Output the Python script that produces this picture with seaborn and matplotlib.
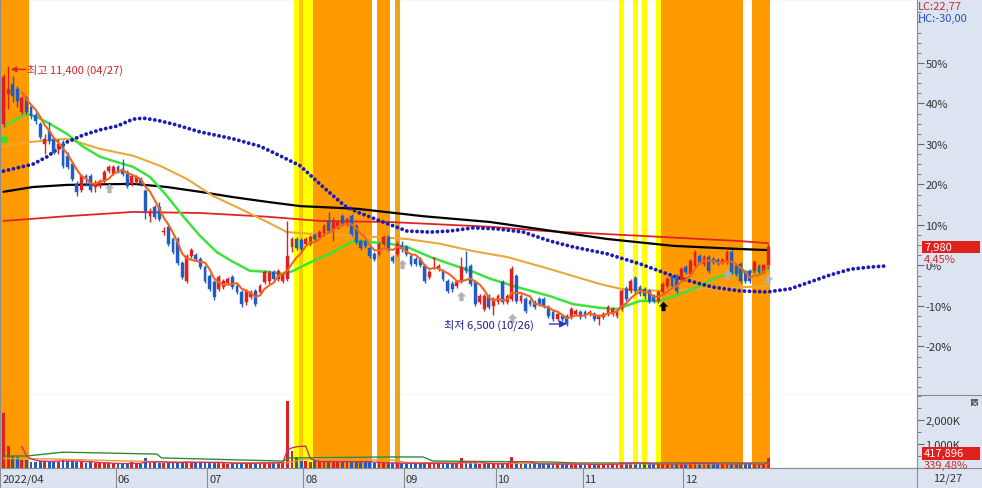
"""Daily candle chart with moving averages, signal bands and volume panel."""

import numpy as np
import pandas as pd
import matplotlib
matplotlib.use('Agg')
import matplotlib.pyplot as plt
from matplotlib.patches import Rectangle
from matplotlib.lines import Line2D
import seaborn as sns

# daily candles 2022-04-26 .. 2022-12-27 (won)
open_ = [10310, 10880, 11060, 10970, 10530, 10800, 10630, 10480, 10310, 9930,
         10180, 10030, 9840, 9970, 9700, 9550, 9180, 9060, 9330, 9330,
         9120, 9140, 9230, 9420, 9370, 9500, 9460, 9400, 9180, 9220,
         9270, 9050, 8570, 8740, 8740, 8270, 8370, 8140, 8140, 7690,
         7350, 7820, 7840, 7760, 7610, 7440, 7330, 7200, 7230, 7310,
         7420, 7250, 7140, 6950, 7050, 7160, 7140, 7330, 7350, 7520,
         7390, 7350, 7390, 7990, 8140, 8120, 8050, 8050, 8220, 8180,
         8230, 8480, 8330, 8370, 8570, 8420, 8570, 8390, 8100, 8100,
         7970, 7860, 7860, 8050, 8180, 7800, 7860, 8010, 7990, 7820,
         7760, 7760, 7630, 7420, 7760, 7570, 7540, 7350, 7290, 7250,
         7350, 7610, 7630, 7330, 6950, 6820, 7060, 6880, 6950, 7330,
         6950, 7010, 7440, 6970, 7010, 6970, 6950, 7010, 7010, 6860,
         6760, 6630, 6690, 6690, 6670, 6730, 6760, 6760, 6730, 6730,
         6630, 6670, 6730, 6730, 6690, 6820, 7200, 7160, 7400, 7230,
         7200, 7160, 7060, 6970, 7140, 7250, 7420, 7440, 7390, 7610,
         7480, 7630, 7820, 7670, 7800, 7760, 7740, 7710, 7710, 7890,
         7630, 7670, 7520, 7540, 7540, 7630, 7540, 7640]
high_ = [11250, 11400, 11220, 11020, 10840, 10840, 10690, 10540, 10350, 10120,
         10350, 10060, 10030, 10000, 9780, 9590, 9230, 9370, 9370, 9370,
         9250, 9270, 9440, 9540, 9540, 9540, 9650, 9440, 9370, 9350,
         9310, 9080, 8720, 8780, 8840, 8370, 8400, 8180, 8180, 7720,
         7860, 7970, 7880, 7800, 7650, 7480, 7370, 7460, 7390, 7420,
         7460, 7290, 7180, 7200, 7180, 7200, 7290, 7560, 7560, 7560,
         7580, 7520, 8480, 8180, 8180, 8160, 8180, 8220, 8250, 8310,
         8420, 8650, 8560, 8500, 8610, 8560, 8610, 8420, 8140, 8140,
         8010, 7900, 8080, 8220, 8220, 7840, 8100, 8100, 8030, 7860,
         7800, 7800, 7670, 7560, 7800, 7670, 7570, 7390, 7350, 7370,
         7800, 7910, 7670, 7370, 7100, 7100, 7100, 7050, 7100, 7370,
         7100, 7630, 7480, 7100, 7050, 7010, 6990, 7050, 7050, 6900,
         6800, 6760, 6730, 6730, 6860, 6820, 6800, 6800, 6800, 6760,
         6730, 6760, 6900, 6860, 6820, 7200, 7250, 7390, 7440, 7270,
         7230, 7200, 7100, 7180, 7330, 7420, 7460, 7480, 7610, 7650,
         7760, 7930, 7860, 7840, 7840, 7800, 7780, 7780, 7930, 7930,
         7670, 7700, 7560, 7580, 7740, 7670, 7670, 8050]
low_ = [10250, 10590, 10720, 10630, 10500, 10500, 10400, 10310, 10030, 9740,
        9930, 9740, 9740, 9480, 9460, 9230, 8950, 9030, 9140, 9030,
        9030, 9100, 9200, 9390, 9350, 9390, 9330, 9100, 9140, 9180,
        9140, 8520, 8460, 8520, 8480, 8220, 8010, 7860, 7650, 7390,
        7310, 7780, 7720, 7570, 7310, 7160, 6990, 7160, 7200, 7270,
        7200, 7100, 6860, 6900, 7000, 6870, 7100, 7290, 7290, 7350,
        7350, 7310, 7350, 7890, 7930, 7910, 8010, 8010, 8100, 8140,
        8200, 8250, 8100, 8330, 8380, 8380, 8200, 8050, 7930, 7970,
        7780, 7720, 7820, 8010, 7910, 7690, 7820, 7890, 7820, 7630,
        7630, 7610, 7310, 7390, 7570, 7540, 7350, 7120, 7140, 7220,
        7310, 7500, 7250, 6870, 6910, 6780, 6820, 6710, 6910, 6910,
        6910, 6970, 6930, 6930, 6740, 6870, 6820, 6870, 6840, 6650,
        6590, 6590, 6590, 6500, 6630, 6690, 6630, 6650, 6690, 6590,
        6520, 6630, 6690, 6690, 6650, 6780, 6970, 7120, 7120, 7060,
        7010, 6930, 6930, 6930, 7100, 7210, 7210, 7120, 7350, 7480,
        7440, 7590, 7670, 7630, 7500, 7670, 7650, 7670, 7670, 7480,
        7440, 7310, 7310, 7310, 7500, 7480, 7500, 7600]
close_ = [11200, 10970, 10840, 10740, 10800, 10530, 10460, 10370, 10060, 10030,
          9990, 9760, 9930, 9520, 9500, 9270, 9030, 9330, 9270, 9060,
          9200, 9230, 9400, 9500, 9500, 9420, 9370, 9140, 9330, 9310,
          9180, 8670, 8670, 8550, 8520, 8290, 8050, 7890, 7690, 7420,
          7820, 7930, 7760, 7610, 7350, 7200, 7050, 7420, 7350, 7390,
          7230, 7140, 6910, 7160, 7140, 6910, 7250, 7520, 7500, 7390,
          7540, 7480, 7820, 8140, 7970, 7950, 8140, 8180, 8140, 8270,
          8390, 8290, 8460, 8460, 8420, 8520, 8230, 8080, 7970, 8010,
          7820, 7760, 8050, 8180, 7950, 7720, 8050, 7950, 7860, 7670,
          7670, 7650, 7350, 7520, 7780, 7630, 7390, 7160, 7200, 7330,
          7610, 7540, 7290, 6910, 7060, 7060, 6860, 7010, 7060, 6950,
          7060, 7570, 6970, 7060, 6780, 6910, 6860, 6910, 6880, 6690,
          6630, 6730, 6630, 6540, 6820, 6780, 6670, 6690, 6760, 6630,
          6690, 6730, 6860, 6820, 6780, 7160, 7010, 7350, 7160, 7100,
          7060, 6970, 6970, 7140, 7290, 7390, 7250, 7160, 7570, 7520,
          7720, 7890, 7710, 7800, 7540, 7710, 7690, 7740, 7890, 7520,
          7480, 7350, 7350, 7350, 7710, 7520, 7640, 7980]
volume_k = [2290, 930, 510, 460, 330, 340, 260, 240, 290, 300,
            280, 300, 260, 320, 280, 300, 270, 250, 220, 260,
            210, 200, 190, 210, 170, 180, 170, 200, 240, 190,
            180, 420, 200, 250, 220, 210, 230, 260, 200, 250,
            270, 230, 210, 240, 230, 260, 230, 210, 200, 170,
            190, 190, 210, 200, 190, 200, 180, 220, 240, 230,
            210, 240, 2800, 720, 460, 300, 280, 250, 280, 260,
            250, 300, 270, 250, 260, 230, 310, 260, 280, 240,
            230, 220, 200, 210, 220, 200, 190, 200, 180, 200,
            170, 180, 250, 190, 170, 180, 190, 210, 170, 180,
            420, 260, 200, 230, 180, 170, 180, 170, 160, 210,
            170, 470, 280, 190, 200, 160, 170, 150, 160, 180,
            170, 150, 160, 190, 170, 150, 160, 140, 150, 160,
            170, 150, 160, 170, 160, 250, 200, 210, 200, 170,
            160, 180, 150, 170, 180, 160, 170, 180, 200, 170,
            190, 230, 180, 170, 200, 160, 150, 160, 170, 200,
            170, 190, 160, 170, 160, 150, 160, 418]

base_close = 7640          # previous close = 0% on the right scale
pct_ticks = [-20, -10, 0, 10, 20, 30, 40, 50]
vol_ticks = [1000, 2000]
vol_tick_labels = ['1,000K', '2,000K']

month_idx = [0, 25, 45, 66, 88, 108, 127, 149]
month_labels = ['2022/04', '06', '07', '08', '09', '10', '11', '12']

# long moving averages as (candle index, price) knots
ma20_idx = [0, 5.1, 7.3, 10.2, 13.9, 17.4, 21.1, 24.8, 28.3, 32, 35.7, 39.2, 42.9,
            46.6, 50.1, 53.8, 57.6, 61, 63, 67, 71.3, 76.3, 80.1, 84.4, 88.1, 93.2,
            97.5, 102.6, 106.3, 110, 113.5, 119.4, 124.4, 130.3, 134, 139, 143.4,
            147.8, 151.5, 155, 158, 160.9, 165.3, 167]
ma20_val = [10270, 10500, 10440, 10310, 10120, 9880, 9690, 9590, 9500, 9310, 8950, 8570, 8200,
            7890, 7710, 7540, 7520, 7480, 7530, 7700, 7860, 8100, 8080, 8050, 7990, 7800,
            7670, 7520, 7390, 7290, 7200, 7060, 6910, 6840, 6820, 6970, 6970,
            7100, 7230, 7390, 7480, 7520, 7520, 7570]
ma60_idx = [0, 5.8, 13.9, 21.1, 28.3, 34.2, 40.1, 45.8, 51.7, 57.6, 61.9, 68.5,
            77.2, 88.1, 95.3, 102.6, 110, 119.4, 124.4, 130.3, 134.7, 143.4, 152.1, 167]
ma60_val = [9890, 9970, 10030, 9840, 9710, 9520, 9270, 8950, 8710, 8460, 8270, 8230,
            8200, 8140, 8050, 7910, 7800, 7570, 7440, 7290, 7200, 7160, 7200, 7250]
ma120_idx = [0, 6.4, 13.9, 28.3, 35.7, 42.9, 50.1, 57.6, 64.8, 77.2, 91.6, 106.3,
             118.3, 131.8, 146.3, 160.9, 167]
ma120_val = [9030, 9120, 9160, 9180, 9120, 9030, 8930, 8840, 8760, 8710, 8570, 8460,
             8310, 8140, 8010, 7950, 7930]
ma240_idx = [0, 13.9, 28.3, 42.9, 57.6, 69.1, 84.4, 106.3, 118.3, 139, 160.9, 167]
ma240_val = [8480, 8570, 8650, 8630, 8560, 8480, 8460, 8370, 8290, 8200, 8100, 8060]
span_idx = [0, 6.4, 9.5, 13.9, 17.4, 21.1, 24.8, 28.3, 30.5, 33.5, 37, 42.9, 50.1, 56,
            60.4, 64.8, 69.8, 74.6, 77.2, 82.9, 88.1, 93.2, 97.5, 102.6, 107.8, 113.5,
            119.4, 124.4, 131.8, 139, 146.3, 150.6, 155, 160.9, 166.8, 171.8, 176.2,
            180.5, 185, 189.3, 192.6]
span_val = [9420, 9550, 9690, 9970, 10100, 10200, 10270, 10400, 10420, 10380, 10310, 10160,
            10030, 9890, 9710, 9520, 9120, 8760, 8650, 8460, 8290, 8270, 8290, 8350, 8330,
            8270, 8100, 7990, 7860, 7670, 7440, 7330, 7230, 7160, 7140, 7200, 7330,
            7460, 7570, 7610, 7630]

# volume averages (thousands)
vma_long_idx = [0, 5, 13, 33.5, 34.5, 61, 62.5, 84.4, 91.6, 93.8, 119.4, 125.3, 167]
vma_long_val = [500, 500, 660, 580, 420, 290, 420, 460, 460, 290, 250, 210, 210]
vma_mid_idx = [0, 10, 25, 45, 62, 66, 85, 88, 110, 130, 167]
vma_mid_val = [400, 380, 300, 230, 220, 380, 330, 230, 200, 170, 180]

# signal bands (first candle, last candle, kind)
band_start = [0, 64, 65, 66, 68, 82, 86, 135, 138, 140, 143, 144, 164]
band_end = [5, 64, 65, 67, 80, 84, 86, 135, 138, 140, 143, 161, 167]
band_kind = ['sell', 'buy', 'mix', 'buy', 'sell', 'sell', 'dark', 'buy', 'buy', 'buy',
             'buy', 'sell', 'sell']

# marker arrows under candles
gray_arrow_idx = [23, 87, 100, 111, 158, 167]
gray_arrow_val = [9100, 7670, 7060, 6650, 7480, 7390]
black_arrow_idx = [144]
black_arrow_val = [6880]

RED = '#e0201c'
BLUE = '#1f5cc4'
PANEL = '#dbe4f0'
EDGE = '#8c8c8c'
BAND_COLORS = {'sell': '#ff9a00', 'buy': '#ffff00', 'mix': '#ffc800', 'dark': '#eda514'}

W, H = 982, 489
X_LEFT, X_RIGHT = -0.765, 199.5


def box(x0, y0, x1, y1):
    """Pixel box (top-left origin) -> figure rect."""
    return [x0 / W, 1 - y1 / H, (x1 - x0) / W, (y1 - y0) / H]


def style_axes(a):
    a.set_xlim(X_LEFT, X_RIGHT)
    a.set_xticks([])
    for s in a.spines.values():
        s.set_color(EDGE)
        s.set_linewidth(0.8)
    a.tick_params(axis='y', left=False, right=True, labelleft=False, labelright=True,
                  direction='out', color='#6a6a6a', labelcolor='#333333',
                  labelsize=8, pad=1)


def draw_bands(a):
    for s, e, kind in zip(band_start, band_end, band_kind):
        left = s - 0.5 if s > 0 else X_LEFT
        a.axvspan(left, e + 0.5, color=BAND_COLORS[kind], lw=0, zorder=0)


sns.set_style('white')
plt.rcParams['font.family'] = ['Noto Sans CJK KR', 'DejaVu Sans']

fig = plt.figure(figsize=(9.82, 4.89), dpi=100, facecolor=PANEL)
ax = fig.add_axes(box(0, 0, 917, 395.5))
axv = fig.add_axes(box(0, 395.5, 917, 469))
axd = fig.add_axes(box(0, 469, 917, 489))

o = np.array(open_)
h = np.array(high_)
l = np.array(low_)
c = np.array(close_)
days = np.arange(len(c))
colors = np.where(c >= o, RED, BLUE)

# ---- price panel
style_axes(ax)
ax.set_facecolor('white')
draw_bands(ax)
ax.set_ylim(5206, 12667)
ax.set_yticks([base_close * (1 + p / 100) for p in pct_ticks])
ax.set_yticklabels([f'{p}%' for p in pct_ticks])
ax.set_yticks(base_close * (1 + np.arange(-30, 65, 2.5) / 100), minor=True)
ax.tick_params(axis='y', which='major', length=5, width=0.8)
ax.tick_params(axis='y', which='minor', right=True, length=3, width=0.6, color='#6a6a6a')

sns.lineplot(x=ma240_idx, y=ma240_val, ax=ax, color='#e02424', lw=1.3, zorder=3)
sns.lineplot(x=ma120_idx, y=ma120_val, ax=ax, color='black', lw=1.6, zorder=3)
sns.lineplot(x=ma60_idx, y=ma60_val, ax=ax, color='#e8a93a', lw=1.5, zorder=3)
sns.lineplot(x=ma20_idx, y=ma20_val, ax=ax, color='#3ee23e', lw=1.8, zorder=3)
ax.plot(span_idx, span_val, color='#1c1cb4', lw=2.8, linestyle=(0, (0.01, 1.3)),
        dash_capstyle='round', zorder=3)

ax.vlines(days, l, h, colors=colors, lw=1, zorder=4)
ax.bar(days, np.maximum(np.abs(c - o), 18), bottom=np.minimum(o, c), width=0.62,
       color=colors, edgecolor=colors, lw=0.3, zorder=5)

ma5 = pd.Series(close_).rolling(5).mean()
sns.lineplot(x=days, y=ma5, ax=ax, color='#f0641e', lw=1.5, zorder=6)

arrow = [(0, 1), (-1, 0), (-0.45, 0), (-0.45, -1), (0.45, -1), (0.45, 0), (1, 0), (0, 1)]
ax.scatter(gray_arrow_idx, gray_arrow_val, marker=arrow, s=45, color='#b2b2b2',
           lw=0, zorder=7)
ax.scatter(black_arrow_idx, black_arrow_val, marker=arrow, s=45, color='black',
           lw=0, zorder=7)
ax.scatter([0], [10030], s=30, color='#33dd33', lw=0, zorder=7)

ax.annotate('', xy=(1.6, 11340), xytext=(4.9, 11340),
            arrowprops=dict(arrowstyle='-|>', color='#d42a2a', lw=1, mutation_scale=8,
                            shrinkA=0, shrinkB=0), zorder=8)
ax.text(5.1, 11340, '최고 11,400 (04/27)', color='#c82828', fontsize=8,
        va='center', ha='left', zorder=8)
ax.text(96.2, 6536, '최저 6,500 (10/26)', color='#1e1e8c', fontsize=8,
        va='center', ha='left', zorder=8)
ax.annotate('', xy=(123.0, 6536), xytext=(119.2, 6536),
            arrowprops=dict(arrowstyle='-|>', color='#1e3cc8', lw=1, mutation_scale=10,
                            shrinkA=0, shrinkB=0), zorder=8)
ax.set_xlabel('')
ax.set_ylabel('')

# ---- volume panel
style_axes(axv)
axv.set_facecolor('white')
draw_bands(axv)
axv.set_ylim(0, 3065)
axv.set_yticks(vol_ticks)
axv.set_yticklabels(vol_tick_labels)
axv.set_yticks(np.arange(0, 3001, 500), minor=True)
axv.tick_params(axis='y', which='major', length=5, width=0.8)
axv.tick_params(axis='y', which='minor', right=True, length=3, width=0.6, color='#6a6a6a')
axv.spines['top'].set_visible(False)
axv.bar(days, volume_k, width=0.62, color=colors, lw=0, zorder=3)
sns.lineplot(x=vma_long_idx, y=vma_long_val, ax=axv, color='#2e8b3e', lw=1, zorder=4)
sns.lineplot(x=vma_mid_idx, y=vma_mid_val, ax=axv, color='#e0a030', lw=1, zorder=4)
vma5 = pd.Series(volume_k).rolling(5).mean()
sns.lineplot(x=days, y=vma5, ax=axv, color='#d0306a', lw=1, zorder=4)
axv.set_xlabel('')
axv.set_ylabel('')

# ---- date row
axd.set_xlim(X_LEFT, X_RIGHT)
axd.set_ylim(0, 1)
axd.set_facecolor(PANEL)
axd.set_xticks([])
axd.set_yticks([])
for s in axd.spines.values():
    s.set_color(EDGE)
    s.set_linewidth(0.8)
for i, lab in zip(month_idx, month_labels):
    if i > 0:
        axd.axvline(i - 0.5, color=EDGE, lw=0.8)
    axd.text(max(i - 0.1, X_LEFT + 0.4), 0.45, lab, fontsize=8, color='#333333',
             va='center', ha='left')

# ---- right panel decorations
for yy in (395.5, 469):
    fig.add_artist(Line2D([917 / W, 1], [1 - yy / H] * 2, color=EDGE, lw=0.8))
fig.text(933 / W, 1 - 479 / H, '12/27', fontsize=8, color='#333333', va='center')
fig.text(918 / W, 1 - 7 / H, 'LC:22,77', fontsize=8, color='#d02a2a', va='center')
fig.text(918 / W, 1 - 19 / H, 'HC:-30,00', fontsize=8, color='#2a4fbf', va='center')

fig.add_artist(Rectangle((922 / W, 1 - 254 / H), 58 / W, 12 / H, transform=fig.transFigure,
                         facecolor=RED, edgecolor='none', zorder=5))
fig.text(924 / W, 1 - 248 / H, '7,980', fontsize=8, color='white', va='center', zorder=6)
fig.text(924 / W, 1 - 260 / H, '4,45%', fontsize=8, color='#d42a2a', va='center', zorder=6,
         bbox=dict(facecolor=PANEL, edgecolor='none', pad=0))

fig.add_artist(Rectangle((922 / W, 1 - 461 / H), 58 / W, 13 / H, transform=fig.transFigure,
                         facecolor=RED, edgecolor='none', zorder=5))
fig.text(924 / W, 1 - 454 / H, '417,896', fontsize=8, color='white', va='center', zorder=6)
fig.text(924 / W, 1 - 466 / H, '339,48%', fontsize=8, color='#d42a2a', va='center', zorder=6)

fig.add_artist(Rectangle((971 / W, 1 - 407 / H), 7 / W, 7 / H, transform=fig.transFigure,
                         facecolor='#606060', edgecolor='none', zorder=5))
fig.text(974.5 / W, 1 - 403.5 / H, '×', fontsize=6, color='white', ha='center',
         va='center', zorder=6)

fig.savefig('out.png', dpi=100, facecolor=PANEL)
